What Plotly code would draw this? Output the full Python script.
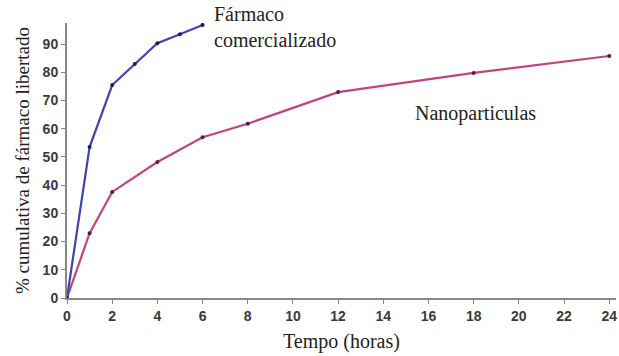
import plotly.graph_objects as go

# Release time points (hours) and cumulative release (%)
t_comercial = [0, 1, 2, 3, 4, 5, 6]
rel_comercial = [0, 53.5, 75.5, 83, 90.3, 93.5, 96.8]

t_nano = [0, 1, 2, 4, 6, 8, 12, 18, 24]
rel_nano = [0, 23, 37.6, 48.2, 57, 61.8, 73, 79.8, 85.8]

x_ticks = list(range(0, 25, 2))
y_ticks = list(range(0, 100, 10))

fig = go.Figure()
fig.add_trace(go.Scatter(
    x=t_nano, y=rel_nano, mode="lines+markers",
    line=dict(color="#c2447f", width=2.2),
    marker=dict(size=4, color="#5a1848"),
    showlegend=False,
))
fig.add_trace(go.Scatter(
    x=t_comercial, y=rel_comercial, mode="lines+markers",
    line=dict(color="#3d43b4", width=2.2),
    marker=dict(size=4, color="#1c1f55"),
    showlegend=False,
))

serif = "Liberation Serif"
fig.add_annotation(x=6.4, y=96, xref="x", yref="y", xanchor="left", yanchor="middle",
                   text="Fármaco<br>comercializado", showarrow=False, align="left",
                   font=dict(family=serif, size=20, color="#222"))
fig.add_annotation(x=18.1, y=65.5, xref="x", yref="y", xanchor="center", yanchor="middle",
                   text="Nanoparticulas", showarrow=False,
                   font=dict(family=serif, size=20, color="#222"))

tick_font = dict(family="Liberation Sans", size=14, color="#3a3a3a", weight="bold")
fig.update_xaxes(
    range=[0, 24.3], tickvals=x_ticks, ticktext=[str(v) for v in x_ticks],
    showgrid=False, zeroline=False, showline=True, linecolor="#888", linewidth=2,
    ticks="outside", ticklen=4, tickcolor="#888", tickfont=tick_font,
    title=dict(text="Tempo (horas)", font=dict(family=serif, size=20, color="#222"),
               standoff=11),
)
fig.update_yaxes(
    range=[0, 97.5], tickvals=y_ticks, ticktext=[str(v) for v in y_ticks],
    showgrid=False, zeroline=False, showline=True, linecolor="#888", linewidth=2,
    ticks="outside", ticklen=4, tickcolor="#888", tickfont=tick_font,
    title=dict(text="% cumulativa de fármaco libertado",
               font=dict(family=serif, size=19, color="#222"), standoff=8),
)
fig.update_layout(
    width=619, height=356,
    margin=dict(l=67, r=3, t=23, b=58),
    plot_bgcolor="white", paper_bgcolor="white",
)
fig.write_html("out.html")
